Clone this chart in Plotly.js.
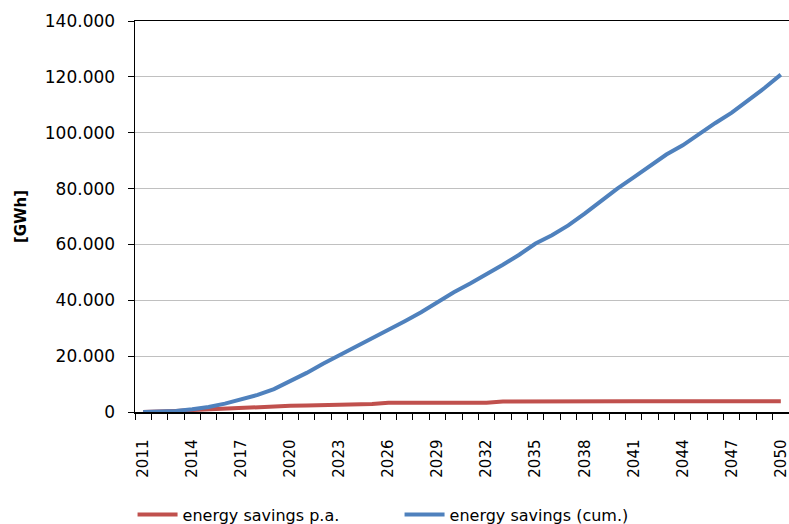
<!DOCTYPE html>
<html>
<head>
<meta charset="utf-8">
<script src="https://cdn.plot.ly/plotly-3.0.1.min.js"></script>
<style>html,body{margin:0;padding:0;background:#fff;}#chart{width:789px;height:524px;}</style>
</head>
<body>
<div id="chart"></div>
<script>
const years = [2011,2012,2013,2014,2015,2016,2017,2018,2019,2020,
               2021,2022,2023,2024,2025,2026,2027,2028,2029,2030,
               2031,2032,2033,2034,2035,2036,2037,2038,2039,2040,
               2041,2042,2043,2044,2045,2046,2047,2048,2049,2050];
const savingsPA = [0,100,400,700,1000,1200,1400,1700,1900,2200,
                   2300,2400,2800,2850,2900,3300,3300,3300,3300,3300,
                   3300,3300,3800,3850,3850,3850,3850,3850,3850,3850,
                   3850,3850,3850,3850,3850,3850,3850,3850,3850,3850];
const savingsCum = [0,100,400,1000,1800,3000,4400,6100,8200,11000,
                    14000,17300,20300,23600,26600,29600,32500,35700,39300,42900,
                    46000,49200,52700,56300,60300,63300,66800,71000,75500,80000,
                    84000,88000,92200,95500,99600,103500,107200,111500,116000,120800];
const seriesNames = ["energy savings p.a.", "energy savings (cum.)"];
const yTickVals = [0,20000,40000,60000,80000,100000,120000,140000];
const xLabelYears = [2011,2014,2017,2020,2023,2026,2029,2032,2035,2038,2041,2044,2047,2050];

const font = "DejaVu Sans, sans-serif";
const traces = [
  {x: years, y: savingsPA, name: seriesNames[0], type: "scatter", mode: "lines",
   line: {color: "#C0504D", width: 4}},
  {x: years, y: savingsCum, name: seriesNames[1], type: "scatter", mode: "lines",
   line: {color: "#4F81BD", width: 4}}
];
const layout = {
  width: 789, height: 524,
  margin: {l: 135, r: 0, t: 21, b: 112},
  paper_bgcolor: "#fff", plot_bgcolor: "#fff",
  separators: ",.",
  font: {family: font, color: "#000", size: 16},
  showlegend: true,
  legend: {orientation: "h", xref: "container", yref: "container",
           x: 0.168, xanchor: "left", y: 0.018, yanchor: "middle",
           font: {family: font, size: 16, color: "#000"}, itemwidth: 40,
           entrywidth: 212, tracegroupgap: 0},
  xaxis: {
    range: [2010.5, 2050.5], showgrid: false, zeroline: false, automargin: false,
    showline: true, mirror: true, linecolor: "#000", linewidth: 1.5,
    tickmode: "array", tickvals: xLabelYears, ticktext: xLabelYears.map(String),
    ticks: "", tickangle: -90, ticklabelstandoff: 20, ticklabeloverflow: "allow",
    tickfont: {family: font, size: 15, color: "#000"},
    minor: {tick0: 2010.5, dtick: 1, ticks: "outside", ticklen: 6, tickcolor: "#000", tickwidth: 1, showgrid: false}
  },
  yaxis: {
    range: [0, 140000], tickmode: "array", tickvals: yTickVals, automargin: false,
    tickformat: ",d", showgrid: true, gridcolor: "#c0c0c0", gridwidth: 1,
    zeroline: false, showline: true, linecolor: "#000", linewidth: 1.5,
    ticks: "outside", ticklen: 6, tickcolor: "#000", ticklabelstandoff: 9,
    tickfont: {family: font, size: 17, color: "#000"},
    title: {text: "<b>[GWh]</b>", font: {family: font, size: 15, color: "#000"}, standoff: 14}
  }
};
Plotly.newPlot("chart", traces, layout, {staticPlot: true, displayModeBar: false});
</script>
</body>
</html>
